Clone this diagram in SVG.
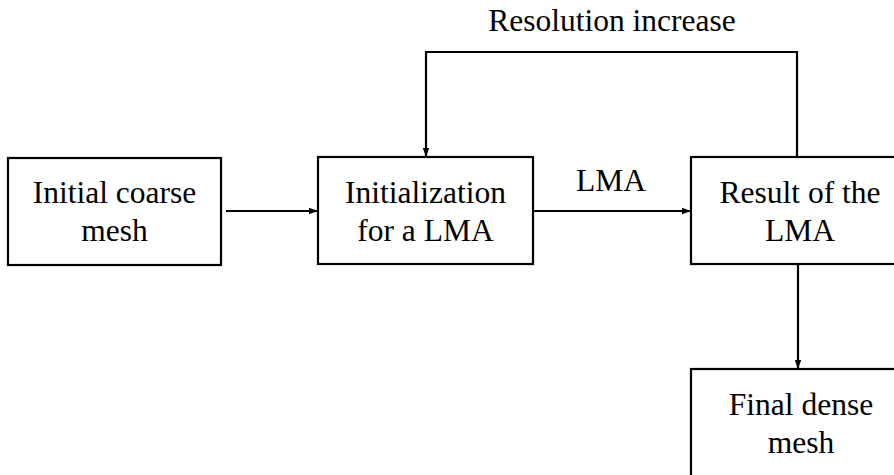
<svg xmlns="http://www.w3.org/2000/svg" width="894" height="475" viewBox="0 0 894 475">
<style>
.box{fill:#fff;stroke:#000;stroke-width:2.2}
.t{font-family:'Liberation Serif','Times New Roman','DejaVu Serif',serif;font-size:31.5px;fill:#000;text-anchor:middle}
.c{fill:none;stroke:#000;stroke-width:2.2}
</style>
<defs>
<marker id="ah" markerWidth="10" markerHeight="8" refX="9" refY="4" orient="auto" markerUnits="userSpaceOnUse">
<path d="M0,0.8 L9,4 L0,7.2 Z" fill="#000"/>
</marker>
</defs>
<rect width="894" height="475" fill="#fff"/>
<g id="connectors">
<line class="c" x1="226" y1="211" x2="318" y2="211" marker-end="url(#ah)"/>
<line class="c" x1="533" y1="211" x2="691" y2="211" marker-end="url(#ah)"/>
<polyline class="c" points="797,157 797,52 426,52 426,157" marker-end="url(#ah)"/>
<line class="c" x1="798" y1="264" x2="798" y2="369" marker-end="url(#ah)"/>
<text class="t" x="612" y="31">Resolution increase</text>
<text class="t" x="611" y="191">LMA</text>
</g>
<g id="n1">
<rect class="box" x="8" y="158" width="213" height="107"/>
<text class="t" x="114.5" y="203">Initial coarse</text>
<text class="t" x="114.5" y="241">mesh</text>
</g>
<g id="n2">
<rect class="box" x="318" y="157" width="215" height="107"/>
<text class="t" x="425.5" y="203">Initialization</text>
<text class="t" x="425.5" y="241">for a LMA</text>
</g>
<g id="n3">
<rect class="box" x="691" y="157" width="218" height="107"/>
<text class="t" x="800" y="203">Result of the</text>
<text class="t" x="800" y="241">LMA</text>
</g>
<g id="n4">
<rect class="box" x="691" y="369" width="218" height="120"/>
<text class="t" x="801" y="415">Final dense</text>
<text class="t" x="801" y="453">mesh</text>
</g>
</svg>
